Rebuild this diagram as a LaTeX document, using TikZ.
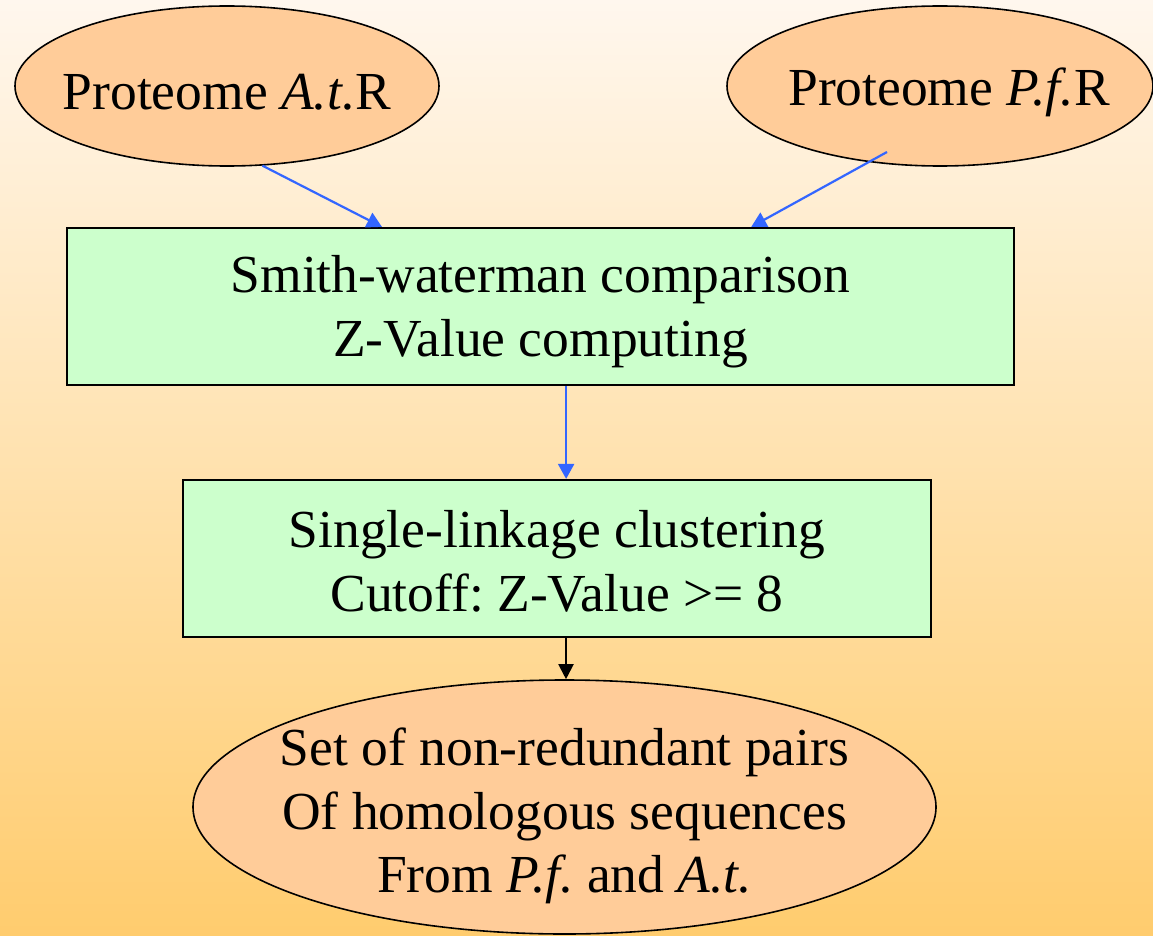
\documentclass[tikz,border=0pt]{standalone}
\usepackage{fontspec}
\setmainfont{Liberation Serif}
\usetikzlibrary{shapes.geometric,arrows.meta,calc}

\definecolor{bgtop}{HTML}{FFF7EE}
\definecolor{bgbottom}{HTML}{FFCC6E}
\definecolor{peach}{HTML}{FFCC99}
\definecolor{mint}{HTML}{CCFFCC}
\definecolor{flowblue}{HTML}{3366FF}

\tikzset{
  bigtext/.style={font=\rmfamily\frenchspacing\fontsize{53.5}{63.5}\selectfont, align=center, inner sep=0pt},
  oval/.style={ellipse, draw=black, line width=1.6pt, fill=peach, inner sep=0pt},
  stepbox/.style={rectangle, draw=black, line width=2.2pt, fill=mint, inner sep=0pt},
  blueflow/.style={draw=flowblue, line width=2.2pt, -{Triangle[width=16pt,length=15pt]}},
  blackflow/.style={draw=black, line width=2pt, -{Triangle[width=15pt,length=15pt]}},
}

\begin{document}
\begin{tikzpicture}[x=1pt,y=-1pt]
  % page frame with vertical background gradient
  \useasboundingbox (0,0) rectangle (1153,936);
  \shade[top color=bgtop, bottom color=bgbottom] (0,0) rectangle (1153,936);

  \begin{scope}
    \clip (0,0) rectangle (1153,936);

    % input proteomes (outline first, text set on top)
    \node[oval, minimum width=424pt, minimum height=160pt] (at) at (227,86) {};
    \node[bigtext] (atT) at ($(at.center)+(0,6)$) {Proteome \textit{A.t.}R};
    \node[oval, minimum width=426pt, minimum height=160pt] (pf) at (940,86) {};
    \node[bigtext] (pfT) at ($(pf.center)+(9,6)$) {Proteome \textit{P.f.}R};

    % processing steps
    \node[stepbox, minimum width=947pt, minimum height=157pt] (sw) at (540.5,306.5) {};
    \node[bigtext] (swT) at ($(sw.center)+(0,5)$)
      {Smith-waterman comparison\\Z-Value computing};
    \node[stepbox, minimum width=748pt, minimum height=157pt] (sl) at (557,558.5) {};
    \node[bigtext] (slT) at ($(sl.center)+(0,3)$)
      {Single-linkage clustering\\Cutoff: Z-Value >= 8};

    % result
    \node[oval, minimum width=743pt, minimum height=254pt] (res) at (564.5,807) {};
    \node[bigtext] (resT) at ($(res.center)+(0,9)$)
      {Set of non-redundant pairs\\Of homologous sequences\\From \textit{P.f.} and \textit{A.t.}};

    % connectors
    \coordinate (pfout) at ($(pf.center)+(-53,66)$);
    \coordinate (swinL) at ($(sw.north west)!0.333!(sw.north east)$);
    \coordinate (swinR) at ($(sw.north west)!0.722!(sw.north east)$);
    \coordinate (swout) at ($(sw.south west)!0.527!(sw.south east)$);
    \coordinate (slout) at ($(sl.south west)!0.512!(sl.south east)$);

    \draw[blueflow] (at.-66) -- (swinL);
    \draw[blueflow] (pfout) -- (swinR);
    \draw[blueflow] (swout) -- (swout |- sl.north);
    \draw[blackflow] (slout) -- (slout |- res.north);
  \end{scope}
\end{tikzpicture}
\end{document}
